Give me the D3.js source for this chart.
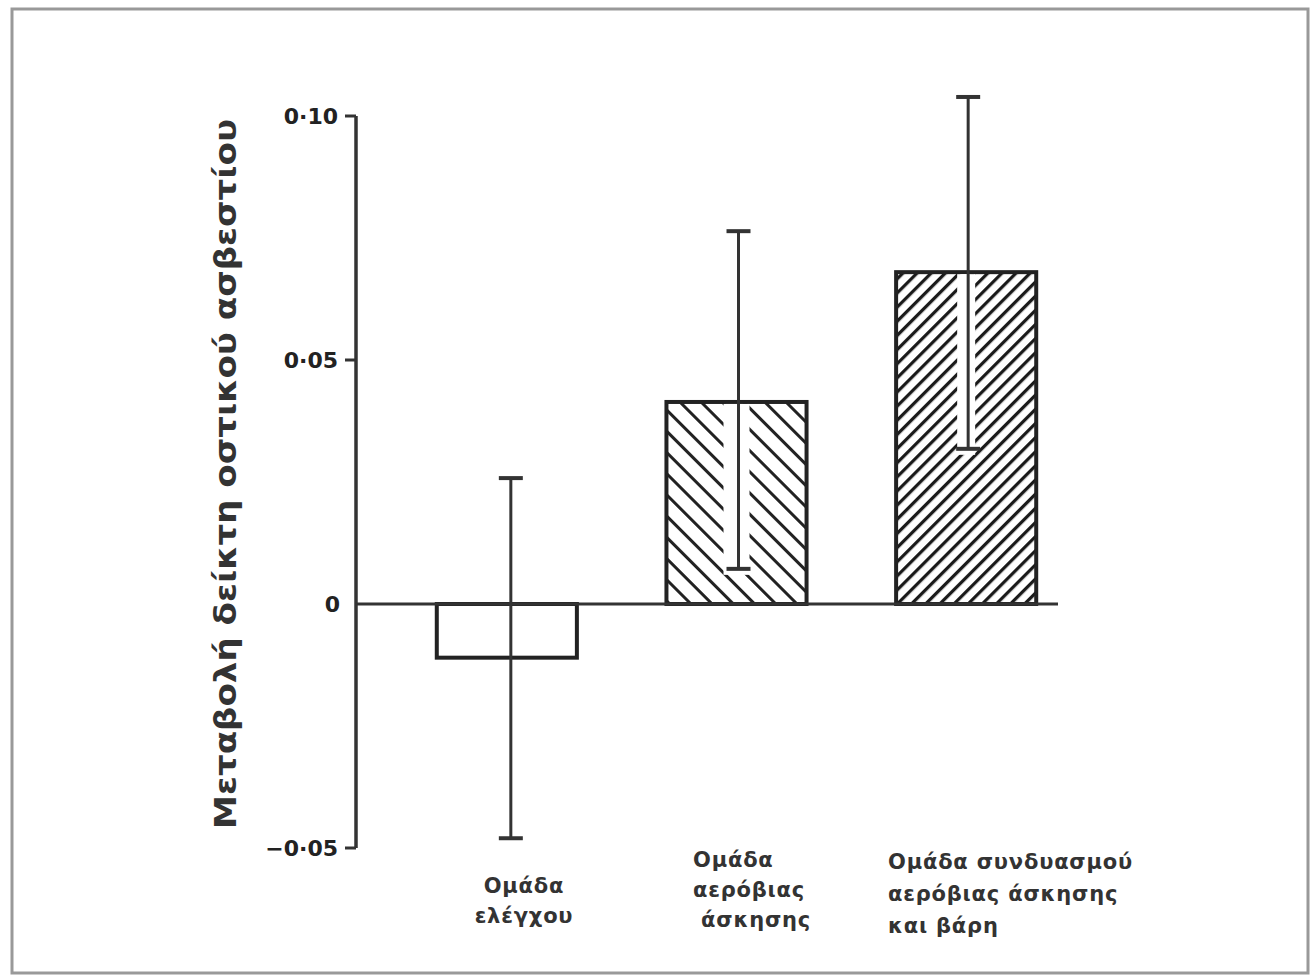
<!DOCTYPE html>
<html>
<head>
<meta charset="utf-8">
<script src="https://cdn.jsdelivr.net/npm/d3@7"></script>
<style>
  body { margin: 0; background: #fff; }
  svg { display: block; }
  .tick-label { font-family: "DejaVu Sans", sans-serif; font-weight: bold; font-size: 22px; fill: #222; }
  .cat-label { font-family: "DejaVu Sans", sans-serif; font-weight: bold; font-size: 21px; letter-spacing: 0.8px; fill: #333; }
  .y-title { font-family: "DejaVu Sans", sans-serif; font-weight: bold; font-size: 30px; fill: #333; }
</style>
</head>
<body>
<div id="chart-container"></div>
<script>
const categories = ["Ομάδα ελέγχου", "Ομάδα αερόβιας άσκησης", "Ομάδα συνδυασμού αερόβιας άσκησης και βάρη"];
const catLines = [
    ["Ομάδα", "ελέγχου"],
    ["Ομάδα", "αερόβιας", " άσκησης"],
    ["Ομάδα συνδυασμού", "αερόβιας άσκησης", "και βάρη"]
];
const means = [-0.011, 0.0414, 0.068];
const errLow = [-0.048, 0.0072, 0.0318];
const errHigh = [0.0258, 0.0764, 0.1039];
const yTicks = [-0.05, 0, 0.05, 0.10];
const yTickLabels = ["\u22120·05", "0", "0·05", "0·10"];
const fills = ["none", "hatchBack", "hatchFwd"];

const svgWidth = 1315, svgHeight = 979;

const svg = d3.select("#chart-container").append("svg")
    .attr("width", svgWidth)
    .attr("height", svgHeight);

// outer frame
svg.append("rect")
    .attr("x", 12).attr("y", 9)
    .attr("width", 1296).attr("height", 964)
    .attr("fill", "none")
    .attr("stroke", "#999")
    .attr("stroke-width", 3);

// hatch patterns
const defs = svg.append("defs");
defs.append("pattern")
    .attr("id", "hatchBack")
    .attr("patternUnits", "userSpaceOnUse")
    .attr("width", 15).attr("height", 15)
    .attr("patternTransform", "rotate(-45)")
    .append("line")
    .attr("x1", 0).attr("y1", 0).attr("x2", 0).attr("y2", 15)
    .attr("stroke", "#222").attr("stroke-width", 6);
defs.append("pattern")
    .attr("id", "hatchFwd")
    .attr("patternUnits", "userSpaceOnUse")
    .attr("width", 10).attr("height", 10)
    .attr("patternTransform", "rotate(45)")
    .append("line")
    .attr("x1", 0).attr("y1", 0).attr("x2", 0).attr("y2", 10)
    .attr("stroke", "#1a1a1a").attr("stroke-width", 6.5);

// scales
const y = d3.scaleLinear().domain([-0.05, 0.10]).range([848, 116]);
const x = d3.scaleBand()
    .domain(categories)
    .range([392, 1081])
    .paddingInner(0.39)
    .paddingOuter(0.195);

const axisX = 356;

// bars
const bars = svg.append("g");
categories.forEach((c, i) => {
    const x0 = x(c), w = x.bandwidth();
    const top = y(Math.max(0, means[i])), bot = y(Math.min(0, means[i]));
    bars.append("rect")
        .attr("x", x0).attr("y", top)
        .attr("width", w).attr("height", bot - top)
        .attr("fill", fills[i] === "none" ? "#fff" : `url(#${fills[i]})`)
        .attr("stroke", "#222")
        .attr("stroke-width", 4);
});

// white strip behind the error line inside hatched bars
const stripW = [0, 26, 18];
categories.forEach((c, i) => {
    if (!stripW[i]) return;
    const cx = x(c) + x.bandwidth() / 2;
    const top = y(means[i]) + 2, bot = y(errLow[i]) + 6;
    bars.append("rect")
        .attr("x", cx - stripW[i] / 2).attr("y", top)
        .attr("width", stripW[i]).attr("height", bot - top)
        .attr("fill", "#fff");
});

// zero line
svg.append("line")
    .attr("x1", axisX).attr("x2", 1058)
    .attr("y1", y(0)).attr("y2", y(0))
    .attr("stroke", "#333").attr("stroke-width", 3);

// error bars
const err = svg.append("g").attr("stroke", "#333");
categories.forEach((c, i) => {
    const cx = x(c) + x.bandwidth() / 2 + (i === 0 ? 4 : 2);
    err.append("line")
        .attr("x1", cx).attr("x2", cx)
        .attr("y1", y(errHigh[i])).attr("y2", y(errLow[i]))
        .attr("stroke-width", 3);
    [errHigh[i], errLow[i]].forEach(v => {
        err.append("line")
            .attr("x1", cx - 12).attr("x2", cx + 12)
            .attr("y1", y(v)).attr("y2", y(v))
            .attr("stroke-width", 4);
    });
});

// y axis
svg.append("line")
    .attr("x1", axisX).attr("x2", axisX)
    .attr("y1", y(0.10)).attr("y2", y(-0.05))
    .attr("stroke", "#333").attr("stroke-width", 3.5);

const ticks = svg.append("g");
yTicks.forEach((t, i) => {
    if (t !== 0) {
        ticks.append("line")
            .attr("x1", axisX - 11).attr("x2", axisX)
            .attr("y1", y(t)).attr("y2", y(t))
            .attr("stroke", "#333").attr("stroke-width", 3);
    }
    ticks.append("text")
        .attr("class", "tick-label")
        .attr("x", t === 0 ? 340 : 338)
        .attr("y", y(t) + 8)
        .attr("text-anchor", "end")
        .text(yTickLabels[i]);
});

// y axis title
svg.append("text")
    .attr("class", "y-title")
    .attr("transform", `translate(236, 474) rotate(-90)`)
    .attr("text-anchor", "middle")
    .attr("textLength", 710)
    .attr("lengthAdjust", "spacingAndGlyphs")
    .text("Μεταβολή δείκτη οστικού ασβεστίου");

// category labels
const labelPos = [
    { x: 524, y: 893, anchor: "middle", dy: 30 },
    { x: 693, y: 867, anchor: "start", dy: 30 },
    { x: 888, y: 869, anchor: "start", dy: 32 }
];
catLines.forEach((lines, i) => {
    const p = labelPos[i];
    const t = svg.append("text")
        .attr("class", "cat-label")
        .attr("text-anchor", p.anchor);
    lines.forEach((l, j) => {
        t.append("tspan")
            .attr("x", p.x)
            .attr("y", p.y + j * p.dy)
            .attr("xml:space", "preserve")
            .style("white-space", "pre")
            .text(l);
    });
});
</script>
</body>
</html>
